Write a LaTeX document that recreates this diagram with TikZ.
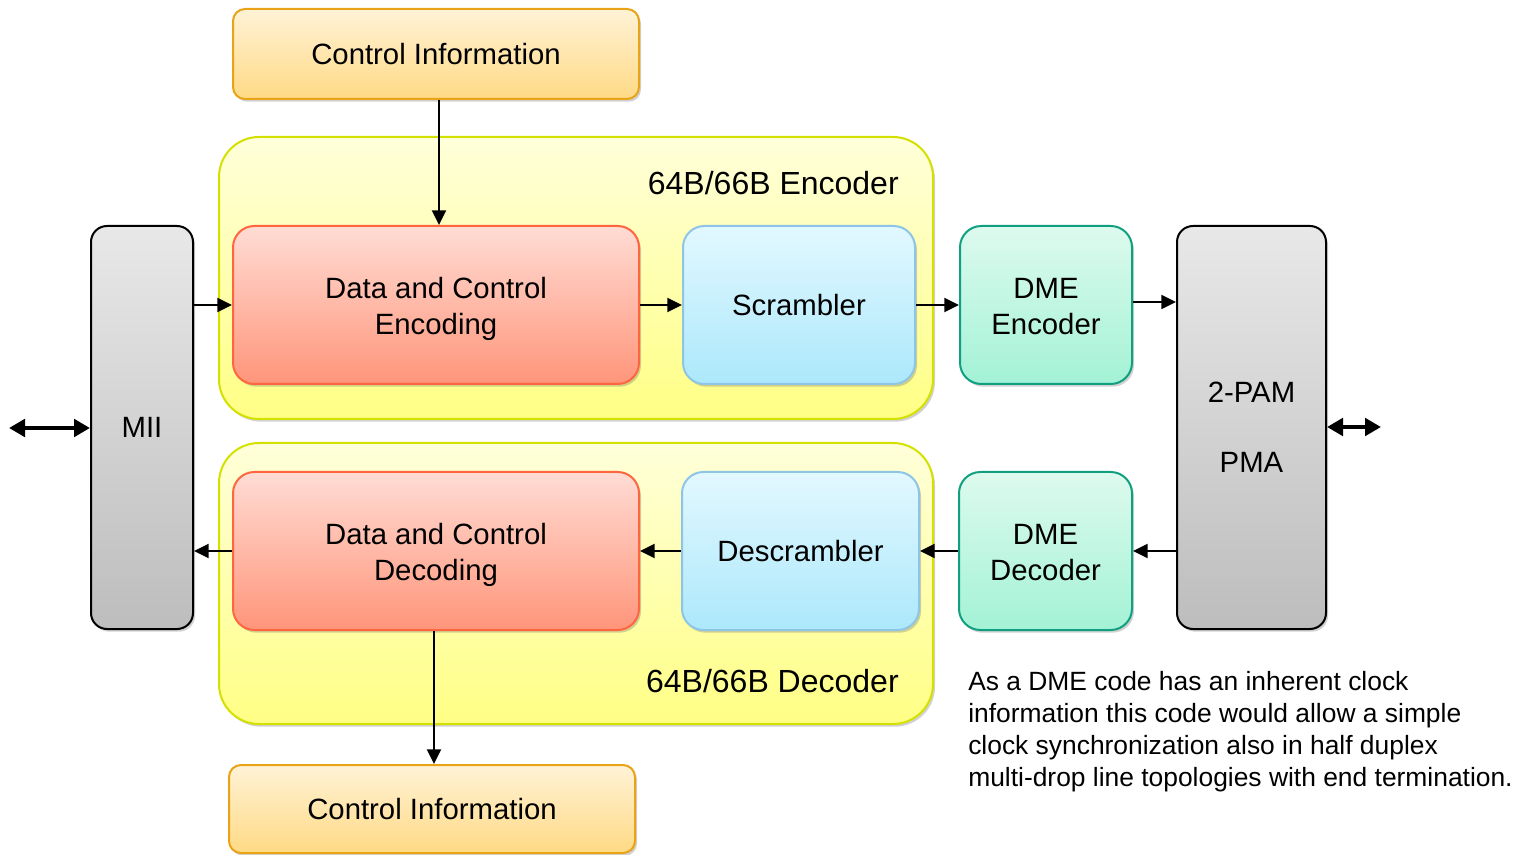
\documentclass[tikz,border=0pt]{standalone}
\usepackage{fontspec}
\setmainfont{Liberation Sans}
\usetikzlibrary{arrows.meta,shadows}
\definecolor{ciT}{HTML}{FFF2D6}\definecolor{ciB}{HTML}{FFDA85}\definecolor{ciD}{HTML}{E8A317}
\definecolor{ctT}{HTML}{FFFFDA}\definecolor{ctB}{HTML}{FFFF85}\definecolor{ctD}{HTML}{D4E100}
\definecolor{rdT}{HTML}{FFDCD4}\definecolor{rdB}{HTML}{FF957A}\definecolor{rdD}{HTML}{FF6640}
\definecolor{blT}{HTML}{E2F8FF}\definecolor{blB}{HTML}{ACE8FB}\definecolor{blD}{HTML}{8EC5E6}
\definecolor{tlT}{HTML}{DDFAEE}\definecolor{tlB}{HTML}{A3F2D6}\definecolor{tlD}{HTML}{10A080}
\definecolor{gyT}{HTML}{E8E8E8}\definecolor{gyB}{HTML}{BDBDBD}
\tikzset{
  sz/.style 2 args={minimum width=#1*0.75pt, minimum height=#2*0.75pt, inner sep=0pt},
  base/.style={draw, line width=1.5pt, align=center, font=\fontsize{22}{26.4}\selectfont,
    drop shadow={shadow xshift=1.5pt, shadow yshift=-2pt, opacity=0.3, fill=black!60}},
  ctrlbox/.style={base, rounded corners=9pt, draw=ciD, top color=ciT, bottom color=ciB},
  contbox/.style={base, rounded corners=30pt, draw=ctD, top color=ctT, bottom color=ctB},
  redbox/.style={base, rounded corners=16pt, draw=rdD, top color=rdT, bottom color=rdB},
  bluebox/.style={base, rounded corners=16pt, draw=blD, top color=blT, bottom color=blB},
  tealbox/.style={base, rounded corners=16pt, draw=tlD, top color=tlT, bottom color=tlB},
  graybox/.style={base, rounded corners=12pt, draw=black, top color=gyT, bottom color=gyB},
  arr/.style={line width=1.5pt, -{Triangle[length=11pt,width=10.5pt]}},
  dbl/.style={line width=3.2pt, {Triangle[length=12pt,width=13pt]}-{Triangle[length=12pt,width=13pt]}},
  hdr/.style={font=\fontsize{24}{28}\selectfont, inner sep=0pt, anchor=east},
}
\newcommand{\lowr}[1]{\raisebox{-3.3pt}[\height][\depth]{\begin{tabular}{@{}c@{}}#1\end{tabular}}}
\begin{document}
\begin{tikzpicture}[x=0.75pt,y=-0.75pt]
\useasboundingbox (0,0) rectangle (1518,855);
% containers
\node[contbox, sz={714}{282}] (encbox) at (576,278) {};
\node[contbox, sz={714}{281}] (decbox) at (576,583.5) {};
% boxes
\node[ctrlbox, sz={406}{90}] (ci1) at (436,54) {Control Information};
\node[ctrlbox, sz={406}{88}] (ci2) at (432,809) {Control Information};
\node[redbox, sz={406}{158}] (dce) at (436,305) {\lowr{Data and Control\\Encoding}};
\node[bluebox, sz={232}{158}] (scr) at (799,305) {Scrambler};
\node[tealbox, sz={172}{158}] (dmee) at (1046,305) {\lowr{DME\\Encoder}};
\node[redbox, sz={406}{158}] (dcd) at (436,551) {\lowr{Data and Control\\Decoding}};
\node[bluebox, sz={237}{158}] (des) at (800.5,551) {Descrambler};
\node[tealbox, sz={173}{158}] (dmed) at (1045.5,551) {\lowr{DME\\Decoder}};
\node[graybox, sz={102}{403}] (mii) at (142,427.5) {MII};
\node[graybox, sz={149}{403}] (pma) at (1251.5,427.5) {2-PAM\\[26pt]PMA};
% headers
\node[hdr] (enclbl) at (899,183) {64B/66B Encoder};
\node[hdr] (declbl) at (899,681) {64B/66B Decoder};
% note
\node[anchor=north west, inner sep=0pt, align=left, font=\fontsize{19.8}{24}\selectfont] (note) at (968,671)
  {As a DME code has an inherent clock\\information this code would allow a simple\\clock synchronization also in half duplex\\multi-drop line topologies with end termination.};
% connectors
\draw[arr] ([xshift=2.25pt]ci1.south) -- ([xshift=2.25pt]dce.north);
\draw[arr] (mii.east |- dce.west) -- (dce.west);
\draw[arr] (dce.east) -- (scr.west);
\draw[arr] (scr.east) -- (dmee.west);
\draw[arr] ([yshift=2.25pt]dmee.east) -- ([yshift=2.25pt]pma.west |- dmee.east);
\draw[arr] (pma.west |- dmed.east) -- (dmed.east);
\draw[arr] (dmed.west) -- (des.east);
\draw[arr] (des.west) -- (dcd.east);
\draw[arr] (dcd.west) -- (mii.east |- dcd.west);
\draw[arr] ([xshift=-1.5pt]dcd.south) -- ([xshift=1.5pt]ci2.north);
\coordinate (la) at (9,428);
\coordinate (ra) at (1381,427);
\draw[dbl] (la) -- (mii.west |- la);
\draw[dbl] (pma.east |- ra) -- (ra);
\end{tikzpicture}
\end{document}
